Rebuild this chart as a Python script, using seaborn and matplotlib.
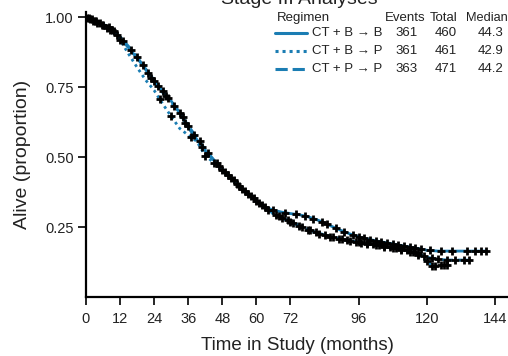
import numpy as np
import pandas as pd
import matplotlib
matplotlib.use("Agg")
import matplotlib.pyplot as plt
from matplotlib.lines import Line2D
import seaborn as sns

# ---------------- data ----------------
regimens = ["CT + B \u2192 B", "CT + B \u2192 P", "CT + P \u2192 P"]
events = [361, 361, 363]
totals = [460, 461, 471]
medians = [44.3, 42.9, 44.2]

grid = [0, 3, 6, 9, 12, 15, 18, 21, 24, 27, 30, 33, 36, 39, 42, 45, 48, 51, 54,
        57, 60, 63, 66, 69, 72, 75, 78, 81, 84, 87, 90, 93, 96]

t_bb = grid + [100, 104, 108, 112, 116, 120, 124, 130, 136, 141]
s_bb = [1.0, 0.985, 0.97, 0.953, 0.925, 0.89, 0.853, 0.815, 0.775, 0.735, 0.70,
        0.657, 0.605, 0.563, 0.522, 0.488, 0.455, 0.427, 0.398, 0.37, 0.345,
        0.322, 0.31, 0.303, 0.298, 0.294, 0.287, 0.277, 0.265, 0.25, 0.237,
        0.225, 0.215,
        0.205, 0.197, 0.19, 0.182, 0.175, 0.167, 0.164, 0.164, 0.164, 0.164]

t_bp = grid + [100, 104, 108, 112, 116, 120, 122, 124, 128]
s_bp = [1.0, 0.985, 0.97, 0.95, 0.918, 0.868, 0.82, 0.775, 0.738, 0.69, 0.645,
        0.602, 0.578, 0.556, 0.505, 0.48, 0.453, 0.424, 0.396, 0.368, 0.343,
        0.32, 0.296, 0.282, 0.268, 0.254, 0.24, 0.229, 0.22, 0.212, 0.205,
        0.2, 0.195,
        0.188, 0.181, 0.174, 0.166, 0.155, 0.128, 0.112, 0.113, 0.113]

t_pp = grid + [100, 104, 108, 112, 116, 120, 124, 128, 132, 136]
s_pp = [1.0, 0.988, 0.975, 0.958, 0.93, 0.895, 0.858, 0.812, 0.77, 0.73, 0.695,
        0.66, 0.612, 0.57, 0.527, 0.49, 0.457, 0.425, 0.395, 0.368, 0.342,
        0.318, 0.298, 0.284, 0.27, 0.256, 0.242, 0.231, 0.222, 0.214, 0.207,
        0.201, 0.196,
        0.19, 0.183, 0.176, 0.169, 0.16, 0.142, 0.134, 0.132, 0.132, 0.132]

cens_bb = [1, 2.5, 4, 6, 7.5, 9, 11, 13, 20, 22, 25.5, 27, 29, 33, 35, 38, 41, 46,
           49, 52, 54, 56, 59, 62, 66, 70, 74, 77, 80, 83, 85, 88, 91, 94, 96, 98,
           100, 102, 104, 106, 108, 110, 112, 114, 116, 118, 121, 125, 129, 134,
           137, 139, 141]
cens_bp = [1.5, 3, 5.5, 8.5, 12, 26, 30, 37, 42, 45, 48, 51, 55, 58, 61, 63, 67,
           69, 72, 75, 78, 82, 86, 89, 93, 96, 99, 102, 105, 108, 111, 114, 117,
           120, 122, 123, 125, 126, 127]
cens_pp = [0.5, 2, 3.5, 5, 8, 10, 16, 18, 23, 24, 28, 31, 34, 36, 40, 43, 47, 50,
           53, 57, 60, 64, 68, 71, 73, 76, 79, 81, 84, 87, 90, 92, 95, 97, 99, 101,
           103, 105, 107, 109, 111, 113, 115, 117, 119, 122, 124, 127, 130, 133, 135]

x_ticks = [0, 12, 24, 36, 48, 60, 72, 96, 120, 144]
y_ticks = [0.25, 0.50, 0.75, 1.00]

# ---------------- frames ----------------
curves = [(t_bb, s_bb), (t_bp, s_bp), (t_pp, s_pp)]
censors = [cens_bb, cens_bp, cens_pp]
rows, crows = [], []
for name, (t, s), c in zip(regimens, curves, censors):
    rows += [{"t": a, "s": b, "arm": name} for a, b in zip(t, s)]
    cs = np.interp(c, t, s)
    crows += [{"t": a, "s": b, "arm": name} for a, b in zip(c, cs)]
df = pd.DataFrame(rows)
dfc = pd.DataFrame(crows)

# ---------------- style ----------------
sns.set_theme(style="ticks")
plt.rcParams["font.family"] = ["Liberation Sans", "DejaVu Sans"]
blue = "#1b7db3"
txt = "#222222"

fig = plt.figure(figsize=(5.08, 3.56), dpi=100)
ax = fig.add_axes([86 / 508, 1 - 297 / 356, (508 - 86) / 508, (297 - 12) / 356])

dashes = {regimens[0]: "", regimens[1]: (1.0, 1.3), regimens[2]: (4, 1.6)}
sns.lineplot(data=df, x="t", y="s", hue="arm", style="arm",
             palette={r: blue for r in regimens}, dashes=dashes,
             estimator=None, sort=False, legend=False, lw=2.0, ax=ax, zorder=2)
sns.scatterplot(data=dfc, x="t", y="s", marker="+", color="black", s=40,
                linewidth=2.0, legend=False, ax=ax, zorder=3)

ax.set_xlim(0, 148.6)
ax.set_ylim(0, 1.018)
ax.set_xticks(x_ticks)
ax.set_xticklabels([str(v) for v in x_ticks])
ax.set_yticks(y_ticks)
ax.set_yticklabels([f"{v:.2f}" for v in y_ticks])
ax.tick_params(axis="both", labelsize=10.5, length=6, width=1.2, color="black",
               labelcolor=txt)
ax.tick_params(axis="x", pad=5)
ax.tick_params(axis="y", pad=3)
for side in ["top", "right"]:
    ax.spines[side].set_visible(False)
for side in ["left", "bottom"]:
    ax.spines[side].set_color("black")
    ax.spines[side].set_linewidth(1.6)

ax.set_xlabel("Time in Study (months)", fontsize=13.5, color=txt, labelpad=8)
ax.set_ylabel("Alive (proportion)", fontsize=14, color=txt, labelpad=10)

# title (mostly cropped at the top, as in the reference)
fig.text(299 / 508, 1 - 4 / 356, "Stage III Analyses", ha="center", va="baseline",
         fontsize=14, color=txt)

# ---------------- legend table ----------------
def fy(py):
    return 1 - py / 356

def fx(px):
    return px / 508

fs = 9.5
fig.text(fx(277), fy(18), "Regimen", fontsize=fs, va="center", ha="left", color=txt)
fig.text(fx(385), fy(18), "Events", fontsize=fs, va="center", ha="left", color=txt)
fig.text(fx(430), fy(18), "Total", fontsize=fs, va="center", ha="left", color=txt)
fig.text(fx(466), fy(18), "Median", fontsize=9.2, va="center", ha="left", color=txt)
row_y = [33, 51, 69]
styles = ["-", (0, (1.0, 1.3)), (0, (4, 1.6))]
for i, name in enumerate(regimens):
    y = fy(row_y[i])
    fig.add_artist(Line2D([fx(275), fx(307)], [y, y], color=blue, lw=2.2,
                          linestyle=styles[i], transform=fig.transFigure))
    fig.text(fx(312), y, name, fontsize=fs, va="center", ha="left", color=txt)
    fig.text(fx(395), y, str(events[i]), fontsize=fs, va="center", ha="left", color=txt)
    fig.text(fx(435), y, str(totals[i]), fontsize=fs, va="center", ha="left", color=txt)
    fig.text(fx(478), y, f"{medians[i]:.1f}", fontsize=fs, va="center", ha="left", color=txt)

fig.savefig("out.png", dpi=100)
